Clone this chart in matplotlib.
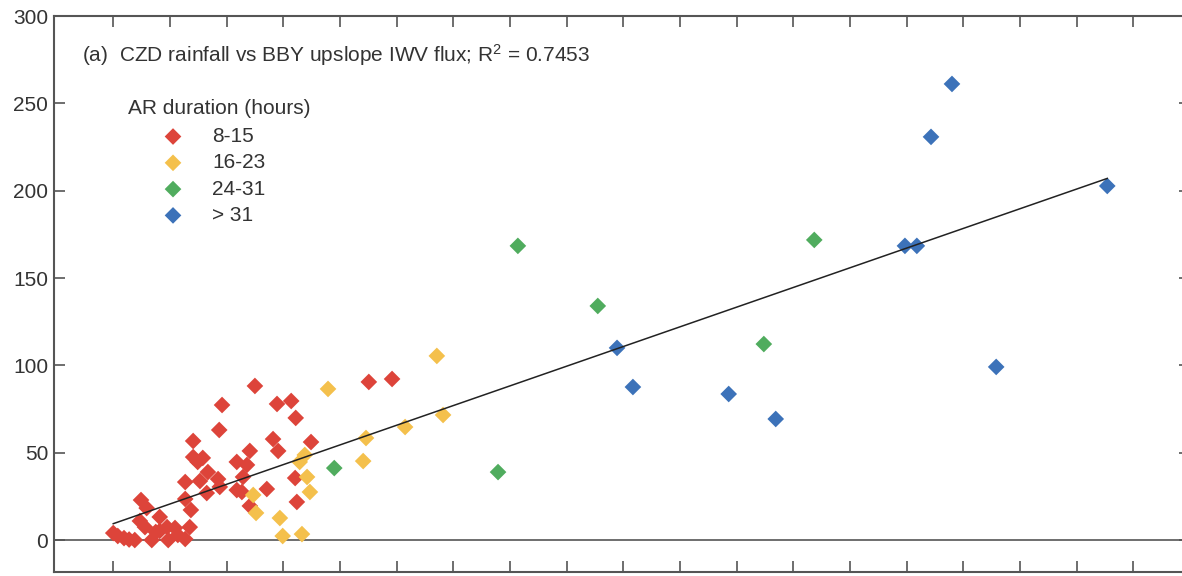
import numpy as np
import matplotlib
matplotlib.use("Agg")
import matplotlib.pyplot as plt

plt.rcParams['font.family'] = ['Liberation Sans', 'DejaVu Sans']
plt.rcParams['mathtext.fontset'] = 'custom'
plt.rcParams['mathtext.rm'] = 'Liberation Sans'
plt.rcParams['mathtext.it'] = 'Liberation Sans:italic'

# upslope IWV flux (x, arbitrary tick units) vs CZD rainfall (y), by AR duration
red_x = [0.0, 0.08, 0.19, 0.28, 0.38, 0.49, 0.47, 0.56, 0.59, 0.68, 0.75, 0.82, 0.82,
         0.95, 0.97, 1.09, 1.14, 1.27, 1.27, 1.27, 1.37, 1.35, 1.41, 1.41, 1.58, 1.49,
         1.53, 1.67, 1.65, 1.85, 1.88, 1.87, 1.92, 2.18, 2.36, 2.29, 2.18, 2.27, 2.41,
         2.41, 2.50, 2.71, 2.82, 2.89, 3.14, 2.91, 3.21, 3.22, 3.24, 3.49, 4.51, 4.92]
red_y = [4.0, 2.3, 1.1, 0.3, 0.0, 22.9, 10.9, 7.4, 18.3, 0.0, 4.6, 13.2, 5.2,
         7.4, 0.0, 6.9, 2.9, 0.6, 23.5, 33.2, 17.2, 7.4, 56.7, 47.5, 47.0, 44.7,
         33.8, 38.9, 26.9, 34.9, 30.4, 63.0, 77.3, 44.7, 43.0, 36.1, 28.6, 27.5, 51.0,
         19.5, 88.2, 29.2, 57.8, 77.9, 79.6, 51.0, 35.5, 69.9, 21.8, 56.1, 90.5, 92.2]

yel_x = [2.47, 2.52, 2.94, 2.99, 3.33, 3.29, 3.38, 3.42, 3.47, 3.79, 4.41, 4.46, 5.15, 5.71, 5.82]
yel_y = [25.8, 15.5, 12.6, 2.3, 3.4, 44.7, 48.7, 36.1, 27.5, 86.5, 45.2, 58.4, 64.7, 105.4, 71.6]

grn_x = [3.90, 6.79, 7.14, 8.55, 11.48, 12.37]
grn_y = [41.2, 38.9, 168.4, 134.0, 112.2, 171.8]

blu_x = [8.89, 9.17, 10.86, 11.69, 13.97, 14.18, 14.43, 14.80, 15.58, 17.54]
blu_y = [110.0, 87.6, 83.6, 69.3, 168.4, 168.4, 230.8, 261.1, 99.1, 202.7]

groups = ['8-15', '16-23', '24-31', '> 31']
colors = ['#DD443A', '#F4C04C', '#50AC5E', '#3C72B9']
series = [(red_x, red_y), (yel_x, yel_y), (grn_x, grn_y), (blu_x, blu_y)]

FS = 15
W, H = 1182, 576
fig = plt.figure(figsize=(W / 100, H / 100), dpi=100)
ax = fig.add_axes([54.3 / W, 1 - 572 / H, (1190 - 54.3) / W, (572 - 16) / H])

ax.axhline(0, color='#555555', lw=1.2, zorder=1)

handles = []
for (xs, ys), c, lab in zip(series, colors, groups):
    h = ax.scatter(xs, ys, marker='D', s=72, color=c, edgecolors='none', zorder=3, label=lab)
    handles.append(h)

# linear fit over all points
all_x = np.concatenate([np.array(s[0]) for s in series])
all_y = np.concatenate([np.array(s[1]) for s in series])
k, b = np.polyfit(all_x, all_y, 1)
xl = np.array([all_x.min(), all_x.max()])
ax.plot(xl, k * xl + b, color='#222222', lw=1.1, zorder=4)

ax.set_xlim(-1.04, 19.0)
ax.set_ylim(-18.3, 300)
ax.set_xticks(np.arange(0, 19))
ax.set_yticks(np.arange(0, 301, 50))
ax.tick_params(axis='x', direction='in', length=8, width=1.2, color='#555555',
               top=True, labelbottom=False)
ax.tick_params(axis='y', direction='in', length=8, width=1.2, color='#555555',
               right=True, labelsize=FS, labelcolor='#333333', pad=4.5)
for sp in ax.spines.values():
    sp.set_color('#555555')
    sp.set_linewidth(1.5)

ax.text((82 - 54.3) / 1135.7, (572 - 55) / 556,
        '(a)  CZD rainfall vs BBY upslope IWV flux; R$^2$ = 0.7453',
        transform=ax.transAxes, fontsize=FS, color='#333333', va='center', ha='left')
ax.text((128 - 54.3) / 1135.7, (572 - 108) / 556, 'AR duration (hours)',
        transform=ax.transAxes, fontsize=FS, color='#333333', va='center', ha='left')

leg = ax.legend(handles=handles, loc='upper left',
                bbox_to_anchor=((162.6 - 54.3) / 1135.7, (572 - 127) / 556),
                frameon=False, fontsize=FS, handlelength=1.0, handletextpad=1.37,
                labelspacing=0.35, borderpad=0, borderaxespad=0, scatterpoints=1)
for t in leg.get_texts():
    t.set_color('#333333')

fig.savefig('out.png', dpi=100)
